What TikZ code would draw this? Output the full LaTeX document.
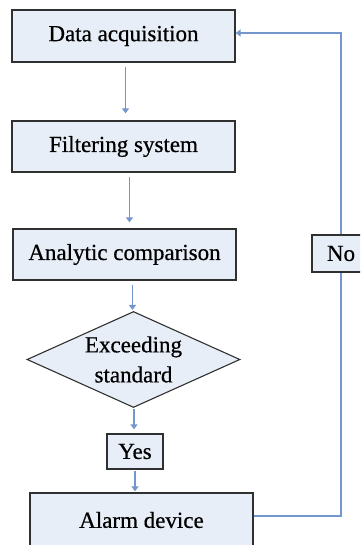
\documentclass[tikz,border=0pt]{standalone}
\usepackage{fontspec}
\setmainfont{Liberation Serif}[FakeBold=0.6]
\usetikzlibrary{arrows.meta,shapes.geometric,positioning,calc}
\definecolor{boxfill}{HTML}{E8EEF8}
\definecolor{boxline}{HTML}{303030}
\definecolor{flowblue}{HTML}{7397CC}
\begin{document}
\begin{tikzpicture}[x=1pt, y=1pt, >={Triangle[length=5pt,width=7pt]},
    stepbox/.style={draw=boxline, line width=1.3pt, fill=boxfill,
      minimum width=223pt, inner sep=0pt, font=\fontsize{23}{30}\selectfont},
    decision/.style={draw=boxline, line width=1.1pt, fill=boxfill, diamond,
      inner sep=0pt, minimum width=213pt, minimum height=96pt},
    flow/.style={draw=flowblue, line width=1.5pt}]
  %% ── Canvas ──────────────────────────────────────────────
  \useasboundingbox (0,0) rectangle (360,-545);
  \clip (0,0) rectangle (360,-545);

  %% ── Main chain ──────────────────────────────────────────
  \node[stepbox, minimum height=52pt] (acq)   at (123.5,-36)  {Data acquisition};
  \node[stepbox, minimum height=51pt] (filt)  at (123.5,-146.5) {Filtering system};
  \node[stepbox, minimum height=51pt] (ana)   at (124.5,-254.5) {Analytic comparison};
  \node[decision] (exc) at (133.5,-359.5) {};
  \node[font=\fontsize{23}{30}\selectfont, align=center] (exctxt) at (exc) {Exceeding\\standard};
  \node[stepbox, minimum width=56pt, minimum height=35pt] (yes) at (135,-451.5) {Yes};
  \node[stepbox, minimum height=54pt] (alarm) at (141.5,-520) {Alarm device};

  %% ── Downward arrows ─────────────────────────────────────
  \draw[flow,->, shorten <=4pt, shorten >=7pt] ([xshift=2pt]acq.south) -- ([xshift=2pt]acq.south |- filt.north);
  \draw[flow,->, shorten <=4pt, shorten >=6pt] ([xshift=6pt]filt.south) -- ([xshift=6pt]filt.south |- ana.north);
  \draw[flow,->, shorten <=4pt, shorten >=1pt] ([xshift=8pt]ana.south) -- ([xshift=8pt]ana.south |- exc.north);
  \draw[flow,->, shorten <=1pt, shorten >=4pt] ([xshift=0.5pt]exc.south) -- ([xshift=0.5pt]exc.south |- yes.north);
  \draw[flow,->, shorten <=1pt, shorten >=1pt] (yes.south) -- (yes.south |- alarm.north);

  %% ── Feedback loop (No) ──────────────────────────────────
  \coordinate (loop) at (341,-253.5);
  \draw[flow] ([yshift=4pt]alarm.east) -| (loop);
  \draw[flow,->] (loop) |- ([yshift=3pt]acq.east);
  \node[stepbox, minimum width=58pt, minimum height=37pt, line width=1.1pt] (no) at (loop) {No};
\end{tikzpicture}
\end{document}
